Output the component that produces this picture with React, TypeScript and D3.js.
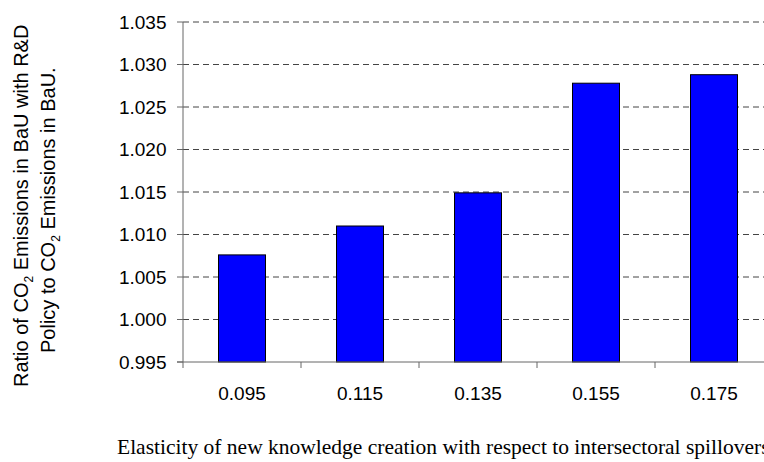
import React from "react";
import * as d3 from "d3";

const categories = ["0.095", "0.115", "0.135", "0.155", "0.175"];
const values = [1.0076, 1.0110, 1.0149, 1.0278, 1.0288];
const yTicks = [0.995, 1.0, 1.005, 1.01, 1.015, 1.02, 1.025, 1.03, 1.035];

export default function App() {
  const W = 764, H = 462;
  const x0 = 183, x1 = 773, yTop = 22, yBot = 362;
  const x = d3.scaleBand<string>().domain(categories).range([x0, x1]).paddingInner(0).paddingOuter(0);
  const y = d3.scaleLinear().domain([0.995, 1.035]).range([yBot, yTop]);
  const barW = 47;
  const font = "Arial, 'Liberation Sans', sans-serif";
  return (
    <svg width={W} height={H} style={{ position: "absolute", left: 0, top: 0 }}>
      <rect x={0} y={0} width={W} height={H} fill="#fff" />
      {yTicks.filter(t => t > 0.996).map(t => (
        <line key={"g" + t} x1={x0} x2={W} y1={y(t)} y2={y(t)} stroke="#444" strokeWidth={1} strokeDasharray="6,4" />
      ))}
      {categories.map((c, i) => {
        const cx = (x(c) as number) + x.bandwidth() / 2;
        return (
          <rect key={c} x={cx - barW / 2} y={y(values[i])} width={barW} height={yBot - y(values[i])}
            fill="#0000FF" stroke="#000" strokeWidth={1} />
        );
      })}
      <line x1={x0} x2={x0} y1={yTop} y2={yBot + 6} stroke="#666" strokeWidth={1} />
      <line x1={x0 - 6} x2={W} y1={yBot} y2={yBot} stroke="#666" strokeWidth={1} />
      {yTicks.map(t => (
        <g key={"t" + t}>
          <line x1={x0 - 6} x2={x0} y1={y(t)} y2={y(t)} stroke="#666" />
          <text x={166.5} y={y(t) + 6.5} textAnchor="end" fontFamily={font} fontSize={19} fill="#000">{t.toFixed(3)}</text>
        </g>
      ))}
      {categories.map((c, i) => (
        <g key={"x" + c}>
          {i > 0 && <line x1={x(c) as number} x2={x(c) as number} y1={yBot} y2={yBot + 6} stroke="#666" />}
          <text x={(x(c) as number) + x.bandwidth() / 2} y={399.5} textAnchor="middle" fontFamily={font} fontSize={19} fill="#000">{c}</text>
        </g>
      ))}
      <text transform="translate(28,387) rotate(-90)" textAnchor="start" fontFamily={font} fontSize={20} fill="#000">
        Ratio of CO<tspan fontSize={12} dy={5}>2</tspan><tspan dy={-5}> Emissions in BaU with R&amp;D</tspan>
      </text>
      <text transform="translate(55,353) rotate(-90)" textAnchor="start" fontFamily={font} fontSize={20} fill="#000">
        Policy to CO<tspan fontSize={12} dy={5}>2</tspan><tspan dy={-5}> Emissions in BaU.</tspan>
      </text>
      <text x={117} y={454} fontFamily="'Times New Roman', 'Liberation Serif', serif" fontSize={21.5} fill="#000">
        Elasticity of new knowledge creation with respect to intersectoral spillovers
      </text>
    </svg>
  );
}
